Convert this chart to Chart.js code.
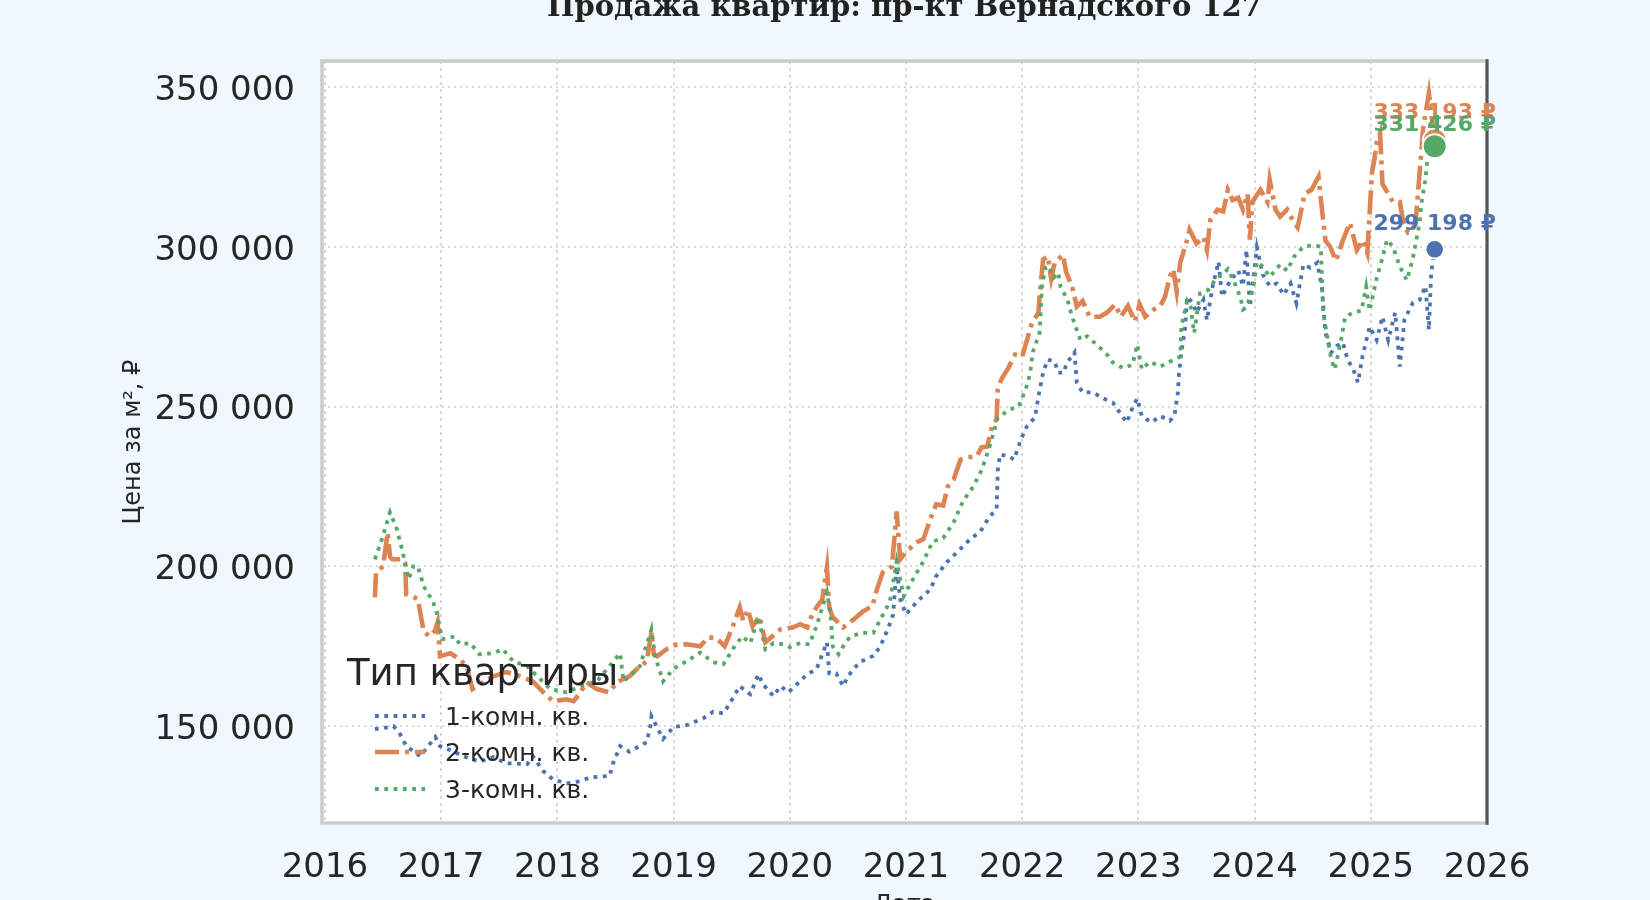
<!DOCTYPE html>
<html><head><meta charset="utf-8">
<script src="https://cdn.jsdelivr.net/npm/chart.js@4.4.1/dist/chart.umd.min.js"></script>
<style>
html,body{margin:0;padding:0;background:#f0f8ff;overflow:hidden}
#wrap{width:1650px;height:900px;position:relative}
</style>
</head><body><div id="wrap"><canvas id="c"></canvas></div>
<script>
const chartTitle = 'Продажа квартир: пр-кт Вернадского 127';
const xTitle = 'Дата';
const yTitle = 'Цена за м², ₽';
const legendTitle = 'Тип квартиры';
const seriesNames = ['1-комн. кв.', '2-комн. кв.', '3-комн. кв.'];
const seriesColors = ['#4c72b0', '#dd8452', '#55a868'];
const yearTicks = [2016, 2017, 2018, 2019, 2020, 2021, 2022, 2023, 2024, 2025, 2026];
const priceTicks = [150000, 200000, 250000, 300000, 350000];

// 1-room
const oneRoomDates = [2016.43,2016.52,2016.59,2016.64,2016.70,2016.82,2016.95,2016.99,2017.10,2017.19,2017.33,2017.45,2017.56,2017.74,2017.79,2017.88,2017.96,2018.08,2018.20,2018.28,2018.45,2018.48,2018.54,2018.62,2018.77,2018.80,2018.81,2018.91,2019.00,2019.11,2019.26,2019.34,2019.43,2019.49,2019.57,2019.66,2019.73,2019.77,2019.86,2019.92,2019.99,2020.06,2020.15,2020.23,2020.32,2020.34,2020.40,2020.46,2020.50,2020.60,2020.72,2020.78,2020.85,2020.89,2020.92,2020.95,2021.00,2021.09,2021.21,2021.26,2021.35,2021.44,2021.55,2021.64,2021.72,2021.78,2021.79,2021.81,2021.89,2021.93,2021.99,2022.04,2022.11,2022.14,2022.18,2022.22,2022.28,2022.31,2022.36,2022.38,2022.45,2022.47,2022.52,2022.61,2022.70,2022.78,2022.84,2022.90,2022.95,2022.99,2023.03,2023.11,2023.19,2023.27,2023.31,2023.34,2023.35,2023.37,2023.40,2023.42,2023.47,2023.50,2023.56,2023.59,2023.64,2023.69,2023.72,2023.79,2023.86,2023.90,2023.93,2023.96,2024.02,2024.07,2024.13,2024.19,2024.25,2024.31,2024.36,2024.42,2024.48,2024.54,2024.58,2024.61,2024.66,2024.71,2024.76,2024.80,2024.85,2024.89,2024.93,2024.99,2025.05,2025.10,2025.15,2025.21,2025.25,2025.29,2025.36,2025.42,2025.47,2025.50,2025.52,2025.55];
const oneRoomPrices = [149100,149500,150000,148000,143750,140600,146600,143750,142200,140600,138900,140300,138400,138100,140600,135900,133400,132100,132800,134000,134400,138400,143750,142000,145000,150000,153100,146000,149700,150300,152500,154500,154000,157500,162500,160000,166250,163100,159400,162500,160600,163100,166250,167800,176250,166500,166500,162500,165600,170000,172000,175000,180900,185000,200000,189700,185000,188750,192800,196900,201250,204400,208400,210900,215600,217800,230000,235000,234400,233400,239700,243750,246600,253100,260600,264700,264000,260600,260600,263400,266900,257500,254400,254400,252500,251250,248100,245000,249700,252500,247000,245000,247000,245500,247000,254400,260600,267000,274000,284400,282200,279400,283400,277000,287700,295300,284400,289400,292500,287700,299000,281250,299700,291300,287700,288500,285000,288500,282300,294400,293400,295000,287000,273000,266900,269000,270000,264700,261600,257500,266000,275000,270800,278100,270800,279400,262500,277200,282300,283300,287700,274000,292000,299198];

// 2-room
const twoRoomDates = [2016.43,2016.44,2016.50,2016.54,2016.56,2016.58,2016.67,2016.69,2016.70,2016.76,2016.80,2016.82,2016.85,2016.90,2016.95,2016.97,2016.99,2017.08,2017.16,2017.22,2017.27,2017.36,2017.45,2017.56,2017.68,2017.79,2017.88,2017.96,2018.08,2018.14,2018.20,2018.25,2018.34,2018.45,2018.51,2018.62,2018.71,2018.77,2018.81,2018.83,2018.86,2018.94,2019.03,2019.11,2019.23,2019.30,2019.37,2019.44,2019.51,2019.57,2019.60,2019.64,2019.68,2019.74,2019.79,2019.86,2019.92,2020.03,2020.09,2020.15,2020.20,2020.28,2020.32,2020.34,2020.37,2020.46,2020.55,2020.63,2020.71,2020.75,2020.80,2020.88,2020.92,2020.95,2021.00,2021.09,2021.15,2021.21,2021.26,2021.32,2021.36,2021.41,2021.47,2021.52,2021.61,2021.65,2021.70,2021.74,2021.78,2021.79,2021.82,2021.88,2021.94,2022.00,2022.05,2022.08,2022.14,2022.15,2022.18,2022.22,2022.25,2022.28,2022.35,2022.38,2022.43,2022.47,2022.52,2022.58,2022.67,2022.73,2022.80,2022.85,2022.91,2022.97,2023.01,2023.06,2023.13,2023.19,2023.23,2023.27,2023.30,2023.33,2023.36,2023.42,2023.44,2023.50,2023.56,2023.59,2023.62,2023.68,2023.73,2023.77,2023.81,2023.86,2023.90,2023.94,2023.96,2023.98,2024.05,2024.11,2024.13,2024.18,2024.22,2024.28,2024.34,2024.37,2024.39,2024.43,2024.49,2024.55,2024.58,2024.61,2024.65,2024.70,2024.76,2024.82,2024.88,2024.93,2024.97,2025.01,2025.03,2025.05,2025.08,2025.10,2025.15,2025.19,2025.25,2025.28,2025.32,2025.36,2025.39,2025.42,2025.45,2025.50,2025.55];
const twoRoomPrices = [190300,198000,200000,210600,203000,202200,202200,201000,191250,190500,189700,185600,179700,178100,180000,182500,171900,172800,170900,168750,161600,163750,165600,166900,165600,164000,160600,157800,158400,157800,160600,163750,161600,160600,163750,165600,168750,170300,179400,172500,171900,174100,175600,175600,175000,177800,177500,175000,181250,187200,183000,186500,181250,184400,176250,178400,180300,180900,181900,180900,185600,189700,199700,187000,184100,180900,183400,185900,187500,192800,198100,200000,217200,202200,204400,207500,208500,214700,219400,219000,225000,227200,233400,234000,234500,237200,237500,243750,246000,255300,258400,262000,266250,265600,271900,275600,279400,284400,296000,297000,290000,295000,297500,291900,287500,281250,283000,278100,278100,279400,281900,278100,281500,276600,282000,278100,280300,281500,284400,290600,293000,286000,295000,302200,305300,301000,303000,299000,308400,311600,311000,317800,314600,315300,311600,316500,302200,314000,317800,314000,320900,311600,309400,311600,307500,306000,309400,316500,317800,321900,311600,301900,300000,295600,302000,307500,299000,302000,298000,323100,327000,332500,335600,319700,316500,314000,314000,307500,304400,305000,309400,323000,337000,348000,333193];

// 3-room
const threeRoomDates = [2016.43,2016.49,2016.56,2016.62,2016.67,2016.72,2016.76,2016.80,2016.85,2016.93,2016.96,2017.01,2017.12,2017.16,2017.25,2017.33,2017.45,2017.53,2017.62,2017.74,2017.94,2018.08,2018.20,2018.34,2018.54,2018.57,2018.71,2018.81,2018.84,2018.91,2019.00,2019.14,2019.23,2019.34,2019.43,2019.51,2019.59,2019.66,2019.73,2019.79,2019.86,2019.95,2020.00,2020.09,2020.17,2020.23,2020.32,2020.35,2020.37,2020.42,2020.46,2020.52,2020.63,2020.72,2020.78,2020.86,2020.92,2020.98,2021.06,2021.15,2021.23,2021.32,2021.41,2021.49,2021.58,2021.65,2021.72,2021.79,2021.89,2021.97,2022.03,2022.07,2022.09,2022.15,2022.17,2022.20,2022.23,2022.27,2022.31,2022.33,2022.39,2022.43,2022.50,2022.56,2022.64,2022.73,2022.78,2022.87,2022.95,2022.99,2023.03,2023.10,2023.19,2023.27,2023.36,2023.37,2023.42,2023.45,2023.48,2023.53,2023.60,2023.68,2023.72,2023.77,2023.82,2023.88,2023.90,2023.93,2023.99,2024.02,2024.07,2024.13,2024.22,2024.28,2024.34,2024.42,2024.51,2024.57,2024.58,2024.59,2024.62,2024.66,2024.69,2024.74,2024.78,2024.85,2024.92,2024.96,2024.99,2025.05,2025.08,2025.14,2025.19,2025.25,2025.31,2025.36,2025.42,2025.44,2025.47,2025.50,2025.55];
const threeRoomPrices = [202200,208400,216900,211600,204400,196000,200000,200000,193750,189000,185600,177200,178100,175600,176000,172500,172800,174100,170300,168750,161600,160600,162500,164000,172800,164000,168750,180300,172000,164000,168000,170900,173000,170000,169400,174100,178100,176000,184100,174100,176000,175600,174700,176000,175600,181250,191900,185600,175000,172500,175000,178100,179200,179200,183400,188750,201600,190600,195900,201600,207800,208800,213750,220300,225000,230000,237500,246500,249000,250000,255300,260600,266900,273100,287500,293400,294000,290300,291900,287500,283400,278100,270900,272000,269400,266250,263750,262000,263100,269400,261600,264000,262500,264000,265600,275000,283000,281250,273000,285400,286500,290600,291000,293000,289400,284000,280300,281000,287500,295300,293800,290600,294400,292500,296900,300000,300500,300000,289700,279400,273000,264700,261600,270000,278100,279400,280000,287500,280000,290000,293800,302200,300000,293800,289500,296000,307500,314700,321000,332000,331426];

const seriesDates = [oneRoomDates, twoRoomDates, threeRoomDates];
const seriesPrices = [oneRoomPrices, twoRoomPrices, threeRoomPrices];
const seriesWidths = [3.8, 4.6, 3.8];
const seriesDash = [[3.8, 5.5], [24, 6, 4, 6], [3.8, 5.5]];
const markerRadius = [9.3, 12, 12];
const labelLift = [25, 27, 21];
const drawOrder = [2, 1, 0];

function fmt(v) { return String(Math.round(v)).replace(/\B(?=(\d{3})+(?!\d))/g, ' '); }

const datasets = seriesNames.map((name, i) => {
  const pts = seriesDates[i].map((d, k) => ({x: d, y: seriesPrices[i][k]}));
  const last = pts.length - 1;
  return {
    label: name,
    data: pts,
    borderColor: seriesColors[i],
    backgroundColor: seriesColors[i],
    borderWidth: seriesWidths[i],
    borderDash: seriesDash[i],
    borderCapStyle: 'butt',
    tension: 0,
    fill: false,
    order: drawOrder[i],
    pointRadius: ctx => ctx.dataIndex === last ? markerRadius[i] : 0,
    pointHoverRadius: ctx => ctx.dataIndex === last ? markerRadius[i] : 0,
    pointBackgroundColor: seriesColors[i],
    pointBorderColor: '#ffffff',
    pointBorderWidth: 2
  };
});

const bgPlugin = {
  id: 'bg',
  beforeDraw(chart) {
    const {ctx, chartArea: a} = chart;
    ctx.save();
    ctx.fillStyle = '#f0f8ff';
    ctx.fillRect(0, 0, chart.width, chart.height);
    ctx.fillStyle = '#ffffff';
    ctx.fillRect(a.left, a.top, a.right - a.left, a.bottom - a.top);
    ctx.restore();
  }
};

const overlayPlugin = {
  id: 'overlay',
  afterDraw(chart) {
    const {ctx, chartArea: a} = chart;
    ctx.save();
    // title, centred over the plot area
    ctx.font = 'bold 29px "DejaVu Serif"';
    ctx.fillStyle = '#222222';
    ctx.textAlign = 'center';
    ctx.textBaseline = 'alphabetic';
    ctx.fillText(chartTitle, (a.left + a.right) / 2, 16);

    // frame
    ctx.strokeStyle = '#cccccc';
    ctx.lineWidth = 3.5;
    ctx.strokeRect(a.left, a.top, a.right - a.left, a.bottom - a.top);
    ctx.strokeStyle = '#555555';
    ctx.lineWidth = 3;
    ctx.beginPath();
    ctx.moveTo(a.right, a.top - 1.75);
    ctx.lineTo(a.right, a.bottom + 1.75);
    ctx.stroke();

    // end labels: blue, orange, green (green on top)
    [0, 1, 2].forEach(i => {
      const meta = chart.getDatasetMeta(i);
      const pt = meta.data[meta.data.length - 1];
      const val = seriesPrices[i][seriesPrices[i].length - 1];
      ctx.font = 'bold 22px "DejaVu Sans"';
      ctx.fillStyle = seriesColors[i];
      ctx.textAlign = 'center';
      ctx.textBaseline = 'middle';
      ctx.fillText(fmt(val) + ' ₽', pt.x, pt.y - labelLift[i]);
    });

    // legend
    const lx = a.left + 25;
    ctx.fillStyle = '#262626';
    ctx.textAlign = 'left';
    ctx.textBaseline = 'alphabetic';
    ctx.font = '37px "DejaVu Sans"';
    ctx.fillText(legendTitle, lx, 685);
    ctx.font = '25px "DejaVu Sans"';
    const rows = [716, 752, 789];
    seriesNames.forEach((name, i) => {
      const y = rows[i];
      ctx.save();
      ctx.strokeStyle = seriesColors[i];
      ctx.lineWidth = seriesWidths[i];
      ctx.setLineDash(seriesDash[i]);
      ctx.lineCap = 'butt';
      ctx.beginPath();
      ctx.moveTo(lx + 28, y);
      ctx.lineTo(lx + 78, y);
      ctx.stroke();
      ctx.restore();
      ctx.fillStyle = '#262626';
      ctx.fillText(name, lx + 98, y + 9);
    });
    ctx.restore();
  }
};

new Chart(document.getElementById('c'), {
  type: 'line',
  data: {datasets},
  plugins: [bgPlugin, overlayPlugin],
  options: {
    responsive: true,
    maintainAspectRatio: false,
    animation: false,
    devicePixelRatio: 1,
    layout: {padding: {left: 0, right: 163, top: 61, bottom: 0}},
    plugins: {
      legend: {display: false},
      tooltip: {enabled: false},
      title: {display: false}
    },
    scales: {
      x: {
        type: 'linear',
        min: 2015.975,
        max: 2026,
        afterBuildTicks: s => { s.ticks = yearTicks.map(v => ({value: v})); },
        afterFit: s => { s.height = 77; },
        ticks: {
          autoSkip: false, maxRotation: 0, padding: 25,
          color: '#262626',
          font: {family: 'DejaVu Sans', size: 34},
          callback: v => String(v)
        },
        grid: {color: '#d9d9d9', lineWidth: 2, drawTicks: false},
        border: {display: false, dash: [3, 4]},
        title: {
          display: true, text: xTitle, color: '#262626',
          font: {family: 'DejaVu Sans', size: 24},
          padding: {top: 0, bottom: -20}
        }
      },
      y: {
        type: 'linear',
        min: 119700,
        max: 358100,
        afterBuildTicks: s => { s.ticks = priceTicks.map(v => ({value: v})); },
        afterFit: s => { s.width = 322; },
        ticks: {
          padding: 27,
          labelOffset: 4,
          color: '#262626',
          font: {family: 'DejaVu Sans', size: 34},
          callback: v => fmt(v)
        },
        grid: {color: '#d9d9d9', lineWidth: 2, drawTicks: false},
        border: {display: false, dash: [2, 4]},
        title: {
          display: true, text: yTitle, color: '#262626',
          font: {family: 'DejaVu Sans', size: 24},
          padding: {top: 119, bottom: 0}
        }
      }
    }
  }
});
</script>
</body></html>
